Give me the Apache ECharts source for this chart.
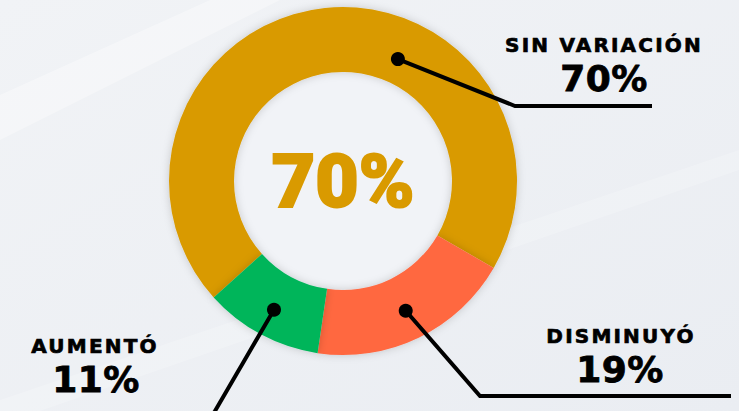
<!DOCTYPE html>
<html>
<head>
<meta charset="utf-8">
<script src="https://cdn.jsdelivr.net/npm/echarts@6/dist/echarts.min.js"></script>
<style>
  html, body { margin: 0; padding: 0; }
  #chart { width: 739px; height: 411px; }
  /* the callout texts are letter-spaced in the original */
  #chart text[style*="20px"] { letter-spacing: 2.2px; }
  #chart text[style*="36px"] { letter-spacing: 0.5px; }
</style>
</head>
<body>
<div id="chart"></div>
<script>
"use strict";
// values shown on the chart
var categories = ['SIN VARIACIÓN', 'DISMINUYÓ', 'AUMENTÓ'];
var values = [70, 19, 11];
var colors = ['#D99A00', '#FF6841', '#00B55A'];
// where the marker dot sits: along the slice (0..1) and across the ring (0 inner .. 1 outer)
var dotFrac = [0.62, 0.5, 0.5];
var dotRad = [0.38, 0.54, 0.57];

// layout of the callouts (elbow, end of the line, text centre)
var callouts = [
    {elbow: [515, 106], end: [652, 106], text: [604, 45], num: [604, 78]},
    {elbow: [480, 396], end: [731, 396], text: [621, 336], num: [620, 369]},
    {elbow: [215, 411], end: [205, 426], text: [95, 346], num: [96, 379]}
];

var cx = 343, cy = 181, rIn = 109, rOut = 174, startAngle = 222;

var chart = echarts.init(document.getElementById('chart'), null, {renderer: 'svg'});

var total = values.reduce(function (a, b) { return a + b; }, 0);
var graphics = [
    // faint light streaks in the backdrop
    {type: 'polygon', silent: true, z: -10,
        shape: {points: [[0, 95], [0, 140], [280, 0], [210, 0]]},
        style: {fill: 'rgba(255,255,255,0.35)'}},
    {type: 'polygon', silent: true, z: -10,
        shape: {points: [[0, 400], [0, 411], [40, 411], [739, 170], [739, 150]]},
        style: {fill: 'rgba(255,255,255,0.2)'}}
];

var acc = 0;
values.forEach(function (v, i) {
    var a0 = startAngle - acc / total * 360;
    var sweep = v / total * 360;
    acc += v;
    var ang = (a0 - sweep * dotFrac[i]) * Math.PI / 180;
    var r = rIn + (rOut - rIn) * dotRad[i];
    var dot = [cx + r * Math.cos(ang), cy - r * Math.sin(ang)];
    var c = callouts[i];
    graphics.push({
        type: 'polyline', z: 10,
        shape: {points: [dot, c.elbow, c.end]},
        style: {stroke: '#000', lineWidth: 4, fill: null, lineJoin: 'miter'}
    });
    graphics.push({
        type: 'circle', z: 11,
        shape: {cx: dot[0], cy: dot[1], r: 7},
        style: {fill: '#000'}
    });
    graphics.push({
        type: 'text', z: 12, x: c.text[0], y: c.text[1],
        style: {text: categories[i], fill: '#000', align: 'center', verticalAlign: 'middle',
            font: 'bold 20px "DejaVu Sans"', stroke: '#000', lineWidth: 0.7}
    });
    graphics.push({
        type: 'text', z: 12, x: c.num[0], y: c.num[1],
        style: {text: v + '%', fill: '#000', align: 'center', verticalAlign: 'middle',
            font: 'bold 36px "DejaVu Sans"', stroke: '#000', lineWidth: 0.8}
    });
});

var option = {
    backgroundColor: {
        type: 'linear', x: 0, y: 0, x2: 1, y2: 1,
        colorStops: [{offset: 0, color: '#F1F3F6'}, {offset: 1, color: '#EAEDF2'}]
    },
    graphic: graphics,
    series: [{
        type: 'pie',
        center: [cx, cy],
        radius: [rIn, rOut],
        startAngle: startAngle,
        clockwise: true,
        silent: true,
        label: {
            show: true, position: 'center',
            formatter: function () { return values[0] + '%'; },
            color: colors[0], fontFamily: 'Roboto', fontWeight: 900, fontSize: 75,
            textBorderColor: colors[0], textBorderWidth: 2
        },
        labelLine: {show: false},
        itemStyle: {shadowBlur: 8, shadowColor: 'rgba(0,0,0,0.18)'},
        data: categories.map(function (name, i) {
            return {name: name, value: values[i], itemStyle: {color: colors[i]},
                label: {show: i === 0}};
        })
    }, {
        // inner disc
        type: 'pie', silent: true, z: 1,
        center: [cx, cy], radius: [0, rIn],
        label: {show: false}, labelLine: {show: false},
        data: [{value: 1, itemStyle: {color: '#F1F3F7'}}]
    }]
};
chart.setOption(option);
</script>
</body>
</html>
